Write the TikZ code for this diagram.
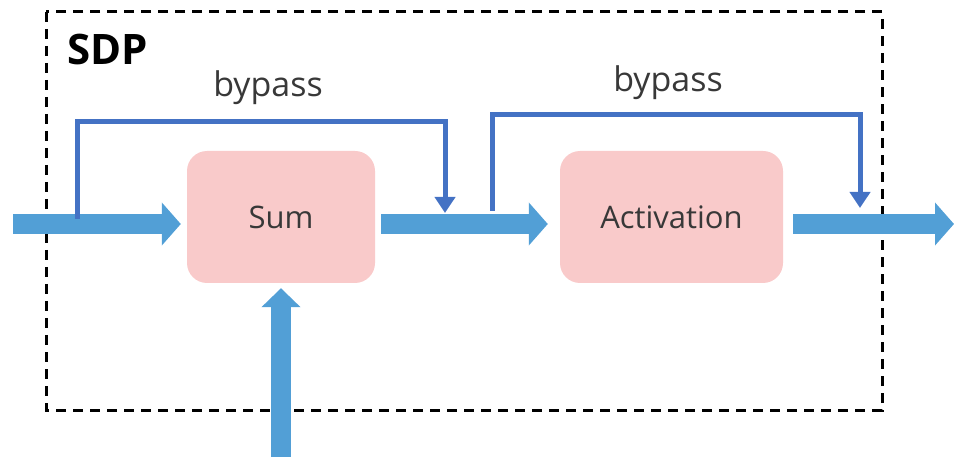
\documentclass[tikz,border=0pt]{standalone}
\usepackage{fontspec}
\setmainfont{Open Sans}
\usetikzlibrary{arrows.meta}
\definecolor{flow}{HTML}{529FD6}
\definecolor{bypassblue}{HTML}{4472C4}
\definecolor{unitpink}{HTML}{F9CACA}
\definecolor{labelgray}{HTML}{383838}
\begin{document}
\begin{tikzpicture}[x=1pt,y=-1pt,
  unit/.style={fill=unitpink, rounded corners=20pt, minimum width=#1,
    minimum height=132pt, inner sep=0pt, text=labelgray,
    font=\fontsize{31}{31}\selectfont},
  label text/.style={inner sep=0pt, text=labelgray, anchor=base,
    font=\fontsize{34}{34}\selectfont},
  frame/.style={draw=black, line width=3pt, dash pattern=on 10pt off 7pt},
  flowarrow/.style={draw=flow, line width=20pt, -{Triangle[length=19pt,width=42pt]}},
  byp/.style={draw=bypassblue, line width=5pt, -{Triangle[length=16pt,width=20pt]}}
]
\useasboundingbox (0,0) rectangle (954,457);

% SDP boundary and title
\draw[frame] (46,12) rectangle (882,410);
\node[inner sep=0pt, anchor=base west, font=\fontsize{42}{42}\selectfont\bfseries] (title) at (67,65) {SDP};

% processing units
\node[unit=188pt] (sum) at (281,217) {Sum};
\node[unit=223pt] (act) at (671.5,217) {Activation};

% main data path
\coordinate (in) at (13,224);
\coordinate (out) at (954,224);
\coordinate (below) at (281,457);
\draw[flowarrow, shorten >=6pt] (in) -- (in -| sum.west);
\draw[flowarrow, shorten <=6pt, shorten >=12pt] (in -| sum.east) -- (in -| act.west);
\draw[flowarrow, shorten <=10pt] (in -| act.east) -- (out);
\draw[flowarrow, -{Triangle[length=19pt,width=38pt]}, shorten >=5pt] (below) -- (sum.south);

% bypass paths
\coordinate (b1s) at (77,219);
\coordinate (b1e) at (445,213);
\coordinate (b2s) at (492,211);
\coordinate (b2e) at (860,208);
\draw[byp] (b1s) -- ++(0,-97) -| (b1e);
\draw[byp] (b2s) -- ++(0,-96) -| (b2e);
\node[label text] (bp1) at (268,97) {bypass};
\node[label text] (bp2) at (668,92) {bypass};
\end{tikzpicture}
\end{document}
